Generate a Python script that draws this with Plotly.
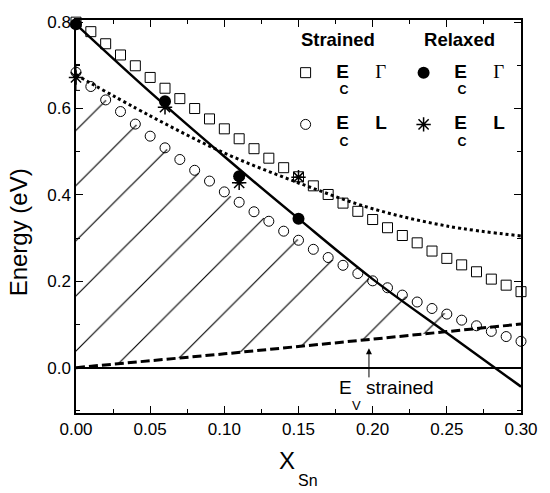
import plotly.graph_objects as go

# ---- data ----
x_comp = [0.00, 0.01, 0.02, 0.03, 0.04, 0.05, 0.06, 0.07, 0.08, 0.09, 0.10,
          0.11, 0.12, 0.13, 0.14, 0.15, 0.16, 0.17, 0.18, 0.19, 0.20,
          0.21, 0.22, 0.23, 0.24, 0.25, 0.26, 0.27, 0.28, 0.29, 0.30]
ec_gamma_strained = [0.800, 0.778, 0.750, 0.724, 0.699, 0.672, 0.647, 0.623, 0.600, 0.576, 0.553,
                     0.530, 0.507, 0.485, 0.463, 0.442, 0.421, 0.401, 0.381, 0.362, 0.343,
                     0.324, 0.306, 0.289, 0.270, 0.253, 0.238, 0.222, 0.205, 0.191, 0.176]
ec_l_strained = [0.684, 0.651, 0.620, 0.593, 0.564, 0.536, 0.509, 0.482, 0.457, 0.432, 0.407,
                 0.383, 0.361, 0.339, 0.316, 0.295, 0.274, 0.255, 0.237, 0.218, 0.201,
                 0.185, 0.168, 0.152, 0.137, 0.124, 0.110, 0.097, 0.084, 0.072, 0.061]

x_relaxed = [0.00, 0.06, 0.11, 0.15]
ec_gamma_relaxed = [0.795, 0.617, 0.443, 0.345]
ec_l_relaxed = [0.672, 0.603, 0.428, 0.441]
ec_l_relaxed_err = [0.03, 0.0, 0.0, 0.0]

x_fit = [0.00, 0.05, 0.10, 0.15, 0.20, 0.25, 0.30]
gamma_fit = [0.795, 0.638, 0.489, 0.345, 0.205, 0.080, -0.044]
l_fit = [0.678, 0.583, 0.497, 0.428, 0.368, 0.328, 0.305]

x_ev = [0.00, 0.10, 0.20, 0.30]
ev_strained = [0.000, 0.032, 0.066, 0.101]

x_ticks = [0.00, 0.05, 0.10, 0.15, 0.20, 0.25, 0.30]
x_tick_labels = ["0.00", "0.05", "0.10", "0.15", "0.20", "0.25", "0.30"]
y_ticks = [0.0, 0.2, 0.4, 0.6, 0.8]
y_tick_labels = ["0.0", "0.2", "0.4", "0.6", "0.8"]

FONT = "Liberation Sans, Arial, sans-serif"
NB = "\u00a0"


def legend_label(sym_html):
    # line 1: big "E  <symbol>", line 2: low subscript "C", line 3: spacer
    big = "<span style='font-size:19px'>" + NB * 2 + "<b>E</b>" + NB * 4 + " " + sym_html + "</span>"
    return big + "<br>" + NB * 4 + "<b>C</b>" + "<br>" + NB


def group_title(text, pad):
    return "<span style='font-size:18.5px'>" + NB * pad + "<b>" + text + "</b></span><br>" + NB


NAME_GAMMA = legend_label("<span style='font-family:Liberation Serif'>Γ</span>")
NAME_L = legend_label("<b>L</b>")

fig = go.Figure()

# valence band (strained) dashed line
fig.add_trace(go.Scatter(x=x_ev, y=ev_strained, mode="lines",
                         line=dict(color="black", width=3, dash="9px,4px"),
                         showlegend=False, hoverinfo="skip"))
# hatched region between Ev strained and Ec L strained
fig.add_trace(go.Scatter(x=x_comp, y=ec_l_strained, mode="lines",
                         line=dict(width=0, color="rgba(0,0,0,0)"),
                         fill="tonexty", fillcolor="rgba(0,0,0,0)",
                         fillpattern=dict(shape="/", size=39, solidity=0.03,
                                          fgcolor="black", bgcolor="rgba(0,0,0,0)",
                                          fillmode="replace"),
                         showlegend=False, hoverinfo="skip"))
# fits
fig.add_trace(go.Scatter(x=x_fit, y=gamma_fit, mode="lines", line_shape="spline",
                         line=dict(color="black", width=2.5),
                         showlegend=False, hoverinfo="skip"))
fig.add_trace(go.Scatter(x=x_fit, y=l_fit, mode="lines", line_shape="spline",
                         line=dict(color="black", width=3, dash="3px,3px"),
                         showlegend=False, hoverinfo="skip"))

# markers (legend entries)
fig.add_trace(go.Scatter(x=x_comp, y=ec_gamma_strained, mode="markers",
                         name=NAME_GAMMA,
                         legendgroup="strained",
                         legendgrouptitle=dict(text=group_title("Strained", 2)),
                         marker=dict(symbol="square-open", size=10, color="black",
                                     line=dict(width=1, color="black")),
                         cliponaxis=False))
fig.add_trace(go.Scatter(x=x_comp, y=ec_l_strained, mode="markers",
                         name=NAME_L,
                         legendgroup="strained",
                         marker=dict(symbol="circle-open", size=10, color="black",
                                     line=dict(width=1, color="black")),
                         cliponaxis=False))
fig.add_trace(go.Scatter(x=x_relaxed, y=ec_gamma_relaxed, mode="markers",
                         name=NAME_GAMMA,
                         legendgroup="relaxed",
                         legendgrouptitle=dict(text=group_title("Relaxed", 3)),
                         marker=dict(symbol="circle", size=12, color="black"),
                         cliponaxis=False))
fig.add_trace(go.Scatter(x=x_relaxed, y=ec_l_relaxed, mode="markers",
                         name=NAME_L,
                         legendgroup="relaxed",
                         error_y=dict(type="data", array=ec_l_relaxed_err, color="black",
                                      thickness=1, width=4),
                         marker=dict(symbol="asterisk-open", size=12, color="black",
                                     line=dict(width=1.5, color="black")),
                         cliponaxis=False))

axis_common = dict(showline=True, linecolor="black", linewidth=1.5, mirror="ticks",
                   ticks="inside", ticklen=7, tickwidth=1.2, tickcolor="black",
                   showgrid=False, tickfont=dict(family=FONT, size=17, color="black"))

fig.update_xaxes(range=[0, 0.30], tickvals=x_ticks, ticktext=x_tick_labels,
                 minor=dict(ticks="inside", ticklen=4, tickwidth=1.2, tickcolor="black", dtick=0.025, tick0=0),
                 zeroline=False, **axis_common)
fig.update_yaxes(range=[-0.105, 0.805], tickvals=y_ticks, ticktext=y_tick_labels,
                 minor=dict(ticks="inside", ticklen=4, tickwidth=1.2, tickcolor="black", dtick=0.1, tick0=0),
                 zeroline=True, zerolinecolor="black", zerolinewidth=1.5, **axis_common)

annotations = [
    dict(text="Energy (eV)", xref="paper", yref="paper", x=-0.13, y=0.46, textangle=-90,
         showarrow=False, font=dict(family=FONT, size=24, color="black"), xanchor="center", yanchor="middle"),
    dict(text="X", xref="paper", yref="paper", x=0.475, y=-0.12,
         showarrow=False, font=dict(family=FONT, size=24, color="black"), xanchor="center", yanchor="middle"),
    dict(text="Sn", xref="paper", yref="paper", x=0.521, y=-0.171,
         showarrow=False, font=dict(family=FONT, size=16, color="black"), xanchor="center", yanchor="middle"),
    # E_V strained label with arrow
    dict(text="E", x=0.1815, y=-0.046, showarrow=False,
         font=dict(family=FONT, size=19, color="black"), xanchor="center", yanchor="middle"),
    dict(text="V", x=0.1890, y=-0.087, showarrow=False,
         font=dict(family=FONT, size=13, color="black"), xanchor="center", yanchor="middle"),
    dict(text="strained", x=0.2185, y=-0.046, showarrow=False,
         font=dict(family=FONT, size=19, color="black"), xanchor="center", yanchor="middle"),
    dict(text="", x=0.1975, y=0.045, ax=0.1975, ay=-0.026, axref="x", ayref="y",
         showarrow=True, arrowhead=2, arrowsize=1.2, arrowwidth=1, arrowcolor="black"),
]

fig.update_layout(
    width=550, height=493,
    margin=dict(l=76, r=21, t=20, b=80),
    paper_bgcolor="white", plot_bgcolor="white",
    font=dict(family=FONT, color="black"),
    annotations=annotations,
    showlegend=True,
    legend=dict(orientation="h", traceorder="grouped", x=0.471, y=0.977,
                xanchor="left", yanchor="top", bgcolor="rgba(0,0,0,0)",
                font=dict(family=FONT, size=12.5, color="black"),
                grouptitlefont=dict(family=FONT, size=10, color="black"),
                itemsizing="trace", valign="top",
                entrywidth=73, entrywidthmode="pixels"),
)

fig.write_html("out.html", config={"displayModeBar": False},
               post_script="document.body.style.margin='0px';")
